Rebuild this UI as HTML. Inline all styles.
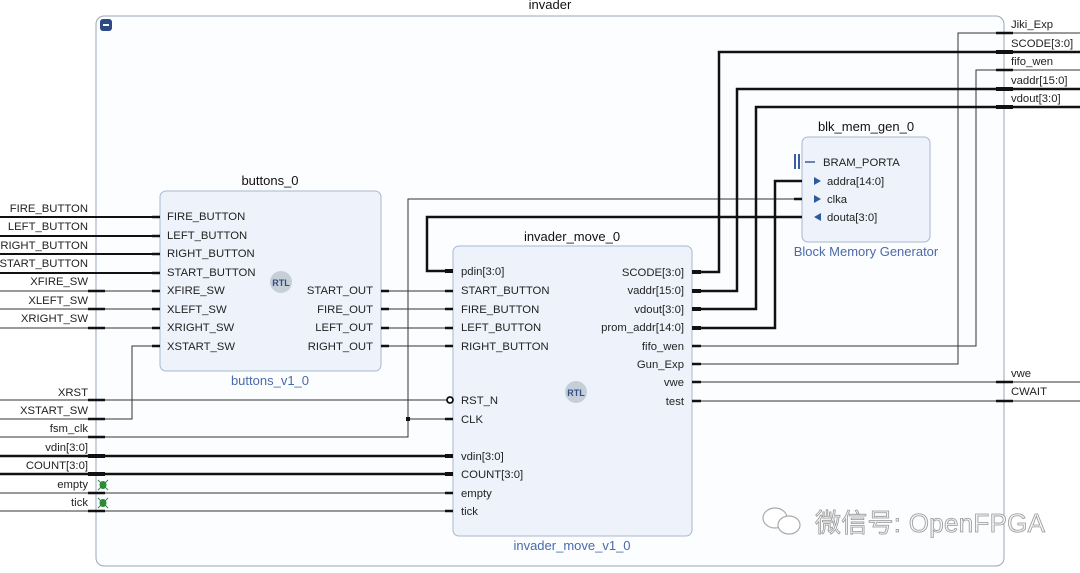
<!DOCTYPE html>
<html><head><meta charset="utf-8"><style>
html,body{margin:0;padding:0;background:#fff;}
svg{display:block;font-family:"Liberation Sans","Noto Sans CJK SC",sans-serif;}
.t{font-size:11.3px;fill:#222;}
.h{font-size:13px;fill:#111;}
.s{font-size:13px;fill:#4a6aa8;}
.w{stroke:#333;stroke-width:1;fill:none;}
.b{stroke:#111;stroke-width:2.5;fill:none;}
.p{stroke:#111;stroke-width:2.5;}
.pb{stroke:#111;stroke-width:4;}
</style></head><body>
<svg width="1080" height="573" viewBox="0 0 1080 573">
<rect x="96" y="16" width="908" height="550" rx="8" fill="#fcfdff" stroke="#9aa6b8" stroke-width="1"/>
<text x="550" y="9" text-anchor="middle" class="h">invader</text>
<rect x="100" y="19" width="12" height="12" rx="3" fill="#2b4a86"/>
<rect x="103" y="24" width="6" height="2" fill="#fff"/>

<rect x="160" y="191" width="221" height="180" rx="6" fill="#eef3fb" stroke="#a7b8d0"/>
<text x="270" y="185" text-anchor="middle" class="h">buttons_0</text>
<text x="270" y="385" text-anchor="middle" class="s">buttons_v1_0</text>
<circle cx="281" cy="282" r="11" fill="#c6ced8"/>
<text x="281" y="286" text-anchor="middle" style="font-size:9px;font-weight:bold;fill:#2f4f86">RTL</text>
<g class="t">
<text x="167" y="220">FIRE_BUTTON</text>
<text x="167" y="239">LEFT_BUTTON</text>
<text x="167" y="257">RIGHT_BUTTON</text>
<text x="167" y="276">START_BUTTON</text>
<text x="167" y="294">XFIRE_SW</text>
<text x="167" y="313">XLEFT_SW</text>
<text x="167" y="331">XRIGHT_SW</text>
<text x="167" y="350">XSTART_SW</text>
<text x="373" y="294" text-anchor="end">START_OUT</text>
<text x="373" y="313" text-anchor="end">FIRE_OUT</text>
<text x="373" y="331" text-anchor="end">LEFT_OUT</text>
<text x="373" y="350" text-anchor="end">RIGHT_OUT</text>
</g>

<rect x="453" y="246" width="239" height="290" rx="6" fill="#eef3fb" stroke="#a7b8d0"/>
<text x="572" y="241" text-anchor="middle" class="h">invader_move_0</text>
<text x="572" y="550" text-anchor="middle" class="s">invader_move_v1_0</text>
<circle cx="576" cy="392" r="11" fill="#c6ced8"/>
<text x="576" y="396" text-anchor="middle" style="font-size:9px;font-weight:bold;fill:#2f4f86">RTL</text>
<g class="t">
<text x="461" y="275">pdin[3:0]</text>
<text x="461" y="294">START_BUTTON</text>
<text x="461" y="313">FIRE_BUTTON</text>
<text x="461" y="331">LEFT_BUTTON</text>
<text x="461" y="350">RIGHT_BUTTON</text>
<text x="461" y="404">RST_N</text>
<text x="461" y="423">CLK</text>
<text x="461" y="460">vdin[3:0]</text>
<text x="461" y="478">COUNT[3:0]</text>
<text x="461" y="497">empty</text>
<text x="461" y="515">tick</text>
<text x="684" y="276" text-anchor="end">SCODE[3:0]</text>
<text x="684" y="294" text-anchor="end">vaddr[15:0]</text>
<text x="684" y="313" text-anchor="end">vdout[3:0]</text>
<text x="684" y="331" text-anchor="end">prom_addr[14:0]</text>
<text x="684" y="350" text-anchor="end">fifo_wen</text>
<text x="684" y="368" text-anchor="end">Gun_Exp</text>
<text x="684" y="386" text-anchor="end">vwe</text>
<text x="684" y="405" text-anchor="end">test</text>
</g>

<rect x="802" y="137" width="128" height="105" rx="6" fill="#eef3fb" stroke="#a7b8d0"/>
<text x="866" y="131" text-anchor="middle" class="h">blk_mem_gen_0</text>
<text x="866" y="256" text-anchor="middle" class="s">Block Memory Generator</text>
<rect x="794" y="154" width="2" height="15" fill="#3a5ea0"/><rect x="798" y="154" width="2" height="15" fill="#3a5ea0"/>
<line x1="805" y1="162" x2="815" y2="162" stroke="#3a5ea0" stroke-width="1.5"/>
<polygon points="814,177 821,181 814,185" fill="#2f5aa0"/>
<polygon points="814,195 821,199 814,203" fill="#2f5aa0"/>
<polygon points="821,213 814,217 821,221" fill="#2f5aa0"/>
<g class="t">
<text x="823" y="166">BRAM_PORTA</text>
<text x="827" y="185">addra[14:0]</text>
<text x="827" y="203">clka</text>
<text x="827" y="221">douta[3:0]</text>
</g>

<g class="t" text-anchor="end">
<text x="88" y="212">FIRE_BUTTON</text>
<text x="88" y="230">LEFT_BUTTON</text>
<text x="88" y="249">RIGHT_BUTTON</text>
<text x="88" y="267">START_BUTTON</text>
<text x="88" y="285">XFIRE_SW</text>
<text x="88" y="304">XLEFT_SW</text>
<text x="88" y="322">XRIGHT_SW</text>
<text x="88" y="396">XRST</text>
<text x="88" y="414">XSTART_SW</text>
<text x="88" y="432">fsm_clk</text>
<text x="88" y="451">vdin[3:0]</text>
<text x="88" y="469">COUNT[3:0]</text>
<text x="88" y="488">empty</text>
<text x="88" y="506">tick</text>
</g>
<g class="t">
<text x="1011" y="28">Jiki_Exp</text>
<text x="1011" y="47">SCODE[3:0]</text>
<text x="1011" y="65">fifo_wen</text>
<text x="1011" y="84">vaddr[15:0]</text>
<text x="1011" y="102">vdout[3:0]</text>
<text x="1011" y="377">vwe</text>
<text x="1011" y="395">CWAIT</text>
</g>

<g>
<line x1="0" y1="217" x2="160" y2="217" stroke="#111" stroke-width="2"/>
<line x1="0" y1="236" x2="160" y2="236" stroke="#111" stroke-width="2"/>
<line x1="0" y1="254" x2="160" y2="254" stroke="#111" stroke-width="2"/>
<line x1="0" y1="273" x2="160" y2="273" stroke="#111" stroke-width="2"/>
</g>
<g class="w">
<line x1="0" y1="291" x2="160" y2="291"/>
<line x1="0" y1="309" x2="160" y2="309"/>
<line x1="0" y1="328" x2="160" y2="328"/>
<polyline points="0,419 132,419 132,346 160,346"/>
<line x1="0" y1="400" x2="448" y2="400"/>
<polyline points="0,437 408,437 408,199 802,199"/>
<line x1="408" y1="419" x2="453" y2="419"/>
<line x1="0" y1="493" x2="453" y2="493"/>
<line x1="0" y1="511" x2="453" y2="511"/>
<line x1="381" y1="291" x2="453" y2="291"/>
<line x1="381" y1="309" x2="453" y2="309"/>
<line x1="381" y1="328" x2="453" y2="328"/>
<line x1="381" y1="346" x2="453" y2="346"/>
<polyline points="692,346 976,346 976,70 1080,70"/>
<polyline points="692,364 958,364 958,33 1080,33"/>
<line x1="692" y1="382" x2="1080" y2="382"/>
<line x1="692" y1="401" x2="1080" y2="401"/>
</g>
<rect x="406" y="417" width="4" height="4" fill="#111"/>
<circle cx="450" cy="400" r="3" fill="#fff" stroke="#111" stroke-width="1.8"/>
<line x1="0" y1="456" x2="453" y2="456" stroke="#111" stroke-width="2.5"/>
<line x1="0" y1="474" x2="453" y2="474" stroke="#111" stroke-width="2.5"/>
<polyline class="b" points="692,272 719,272 719,52 1080,52"/>
<polyline class="b" points="692,291 737,291 737,89 1080,89"/>
<polyline class="b" points="692,309 756,309 756,107 1080,107"/>
<polyline class="b" points="692,328 775,328 775,181 802,181"/>
<polyline class="b" points="802,217 427,217 427,271 453,271"/>

<g class="p">
<line x1="88" y1="291" x2="105" y2="291"/><line x1="88" y1="309" x2="105" y2="309"/><line x1="88" y1="328" x2="105" y2="328"/>
<line x1="88" y1="400" x2="105" y2="400"/><line x1="88" y1="419" x2="105" y2="419"/><line x1="88" y1="437" x2="105" y2="437"/>
<line x1="88" y1="493" x2="105" y2="493"/><line x1="88" y1="511" x2="105" y2="511"/>
<line x1="152" y1="217" x2="160" y2="217"/><line x1="152" y1="236" x2="160" y2="236"/><line x1="152" y1="254" x2="160" y2="254"/><line x1="152" y1="273" x2="160" y2="273"/>
<line x1="152" y1="291" x2="160" y2="291"/><line x1="152" y1="309" x2="160" y2="309"/><line x1="152" y1="328" x2="160" y2="328"/><line x1="152" y1="346" x2="160" y2="346"/>
<line x1="381" y1="291" x2="389" y2="291"/><line x1="381" y1="309" x2="389" y2="309"/><line x1="381" y1="328" x2="389" y2="328"/><line x1="381" y1="346" x2="389" y2="346"/>
<line x1="445" y1="291" x2="453" y2="291"/><line x1="445" y1="309" x2="453" y2="309"/><line x1="445" y1="328" x2="453" y2="328"/><line x1="445" y1="346" x2="453" y2="346"/>
<line x1="445" y1="419" x2="453" y2="419"/><line x1="445" y1="493" x2="453" y2="493"/><line x1="445" y1="511" x2="453" y2="511"/>
<line x1="692" y1="346" x2="701" y2="346"/><line x1="692" y1="364" x2="701" y2="364"/><line x1="692" y1="382" x2="701" y2="382"/><line x1="692" y1="401" x2="701" y2="401"/>
<line x1="794" y1="199" x2="802" y2="199"/>
<line x1="996" y1="33" x2="1013" y2="33"/><line x1="996" y1="70" x2="1013" y2="70"/>
<line x1="996" y1="382" x2="1013" y2="382"/><line x1="996" y1="401" x2="1013" y2="401"/>
</g>
<g class="pb">
<line x1="88" y1="456" x2="105" y2="456"/><line x1="88" y1="474" x2="105" y2="474"/>
<line x1="445" y1="456" x2="453" y2="456"/><line x1="445" y1="474" x2="453" y2="474"/><line x1="445" y1="271" x2="453" y2="271"/>
<line x1="692" y1="272" x2="701" y2="272"/><line x1="692" y1="291" x2="701" y2="291"/><line x1="692" y1="309" x2="701" y2="309"/><line x1="692" y1="328" x2="701" y2="328"/>
<line x1="996" y1="52" x2="1013" y2="52"/><line x1="996" y1="89" x2="1013" y2="89"/><line x1="996" y1="107" x2="1013" y2="107"/>
</g>
<g fill="#2e8b3a">
<ellipse cx="103" cy="485" rx="3.5" ry="4"/><ellipse cx="103" cy="503" rx="3.5" ry="4"/>
<line x1="98" y1="480" x2="108" y2="490" stroke="#2e8b3a"/><line x1="108" y1="480" x2="98" y2="490" stroke="#2e8b3a"/>
<line x1="98" y1="498" x2="108" y2="508" stroke="#2e8b3a"/><line x1="108" y1="498" x2="98" y2="508" stroke="#2e8b3a"/>
</g>
<g stroke="#aaa" fill="#fff" stroke-width="1.2">
<ellipse cx="775" cy="518" rx="12" ry="10"/>
<ellipse cx="789" cy="525" rx="11" ry="9"/>
</g>
<text x="815" y="532" textLength="230" style="font-size:26px;fill:#f4f4f4;stroke:#999;stroke-width:0.8">微信号: OpenFPGA</text>
</svg>
</body></html>
